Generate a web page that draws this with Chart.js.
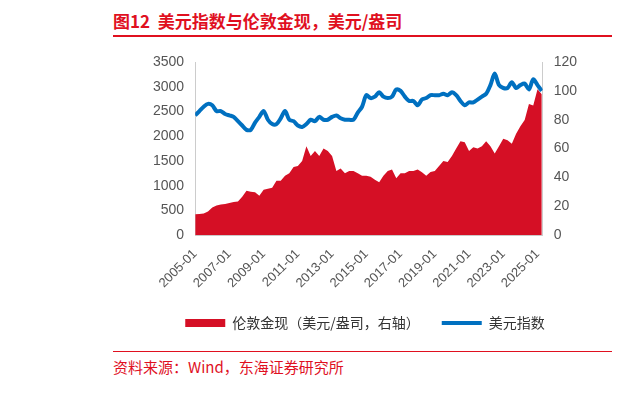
<!DOCTYPE html><html><head><meta charset="utf-8">
<script src="https://cdn.jsdelivr.net/npm/chart.js@4"></script>
<style>body{margin:0;width:640px;height:415px;position:relative;background:#fff;font-family:"Noto Sans CJK SC",sans-serif}
#t{position:absolute;left:113px;top:8px;color:#E0101F;font-size:17px;font-weight:bold}
#l1{position:absolute;left:113px;top:35px;width:499px;height:2px;background:#E0101F}
#l2{position:absolute;left:113px;top:351px;width:499px;height:1px;background:#E0101F}
#s{position:absolute;left:113px;top:356px;color:#E0101F;font-size:15px}
#c{position:absolute;left:0;top:0}</style></head><body>
<div id="t">图12&nbsp; 美元指数与伦敦金现，美元/盎司</div><div id="l1"></div><div id="l2"></div>
<div id="s">资料来源：Wind，东海证券研究所</div>
<canvas id="c" width="640" height="415"></canvas>
<script>
const gold=[425,430,440,480,560,600,620,630,650,670,680,780,900,880,870,800,920,940,960,1100,1100,1200,1250,1380,1400,1500,1800,1600,1700,1600,1750,1700,1600,1300,1350,1250,1300,1300,1250,1200,1200,1180,1120,1070,1200,1300,1330,1150,1250,1250,1300,1300,1330,1270,1200,1280,1300,1400,1500,1480,1600,1750,1900,1880,1700,1780,1750,1800,1900,1800,1650,1800,1950,1920,1850,2050,2200,2330,2650,2620,2950,2850];
const dxy=[83,86,89,91,90,86,86,84,83,82,79,76,73,73,78,82,86,80,77,77,81,86,80,79,76,75,77,80,79,82,80,80,82,83,81,80,80,80,85,89,97,95,96,99,96,95,96,101,100,96,93,93,90,94,95,97,97,97,98,97,99,97,93,90,92,92,94,96,98,104,112,104,102,102,106,102,104,105,101,108,104,100];
const t=gold.map((_,i)=>2005+i*0.25);
const tickYears=[2005,2007,2009,2011,2013,2015,2017,2019,2021,2023,2025];
new Chart(document.getElementById('c'),{data:{datasets:[
{type:'line',label:'伦敦金现（美元/盎司，右轴）',data:t.map((x,i)=>({x,y:gold[i]})),yAxisID:'y',backgroundColor:'#D50F25',borderColor:'#D50F25',borderWidth:0,fill:'origin',pointRadius:0,order:2},
{type:'line',label:'美元指数',data:t.map((x,i)=>({x,y:dxy[i]})),yAxisID:'y1',borderColor:'#0070C0',backgroundColor:'#0070C0',borderWidth:4,pointRadius:0,tension:0.3,order:1}]},
options:{responsive:false,animation:false,layout:{padding:{left:150,right:60,top:62,bottom:75}},
plugins:{legend:{position:'bottom',labels:{padding:22,color:'#333',font:{size:14,family:'Noto Sans CJK SC'},
generateLabels:ch=>ch.data.datasets.map((d,i)=>({text:d.label,datasetIndex:i,fillStyle:d.backgroundColor,strokeStyle:d.borderColor,lineWidth:i?4:0,pointStyle:i?'line':'rect',fontColor:'#333'})),
usePointStyle:true,pointStyleWidth:40,boxHeight:8}},tooltip:{enabled:false}},
scales:{x:{type:'linear',min:2005,max:2025.3,afterBuildTicks:a=>{a.ticks=tickYears.map(v=>({value:v}))},ticks:{callback:v=>v+'-01',maxRotation:45,minRotation:45,color:'#555',font:{size:13}},grid:{display:false,drawTicks:true},border:{color:'#ccc'}},
y:{min:0,max:3500,ticks:{stepSize:500,color:'#555',font:{size:14},callback:v=>String(v)},grid:{display:false},border:{color:'#ccc'}},
y1:{position:'right',min:0,max:120,ticks:{stepSize:20,color:'#555',font:{size:14}},grid:{display:false},border:{color:'#ccc'}}}}});
</script></body></html>
